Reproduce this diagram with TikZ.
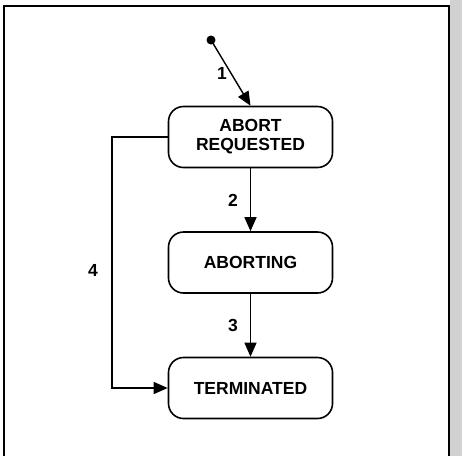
\documentclass[tikz,border=0pt]{standalone}
\usepackage{fontspec}
\setmainfont{Liberation Sans}
\usetikzlibrary{arrows.meta}
\begin{document}
\begin{tikzpicture}[x=1pt,y=-1pt,
  state/.style={draw,line width=1.6pt,rounded corners=15pt,minimum width=164pt,minimum height=61pt,
    align=center,font=\fontsize{17.5}{20}\selectfont\bfseries,inner sep=0pt},
  flow/.style={line width=1.4pt,-{Triangle[length=14pt,width=12pt]}},
  lbl/.style={font=\fontsize{17.5}{20}\selectfont\bfseries}]
  \useasboundingbox (0,0) rectangle (462,456);
  % shaded strip along the right edge
  \fill[black!18] (450,0) rectangle (462,456);
  % outer frame, open at the bottom
  \draw[line width=2pt] (3.5,456) -- (3.5,6) -- (449,6) -- (449,456);
  % initial state
  \fill (211,40) circle (4.5pt) coordinate (init);
  \node[state] (req) at (250.5,137) {ABORT\\[-1pt]REQUESTED};
  \node[state] (abt) at (250.5,262.5) {ABORTING};
  \node[state] (term) at (250.5,388) {TERMINATED};
  \draw[flow] (init) -- (req.north);
  \draw[flow] (req) -- (abt);
  \draw[flow] (abt) -- (term);
  \coordinate (c1) at (112,137);
  \draw[flow] (req.west) -- (c1) |- (term.west);
  \node[lbl] (l1) at (222,73) {1};
  \node[lbl] (l2) at (233,200) {2};
  \node[lbl] (l3) at (233,325) {3};
  \node[lbl] (l4) at (93,270) {4};
\end{tikzpicture}
\end{document}
